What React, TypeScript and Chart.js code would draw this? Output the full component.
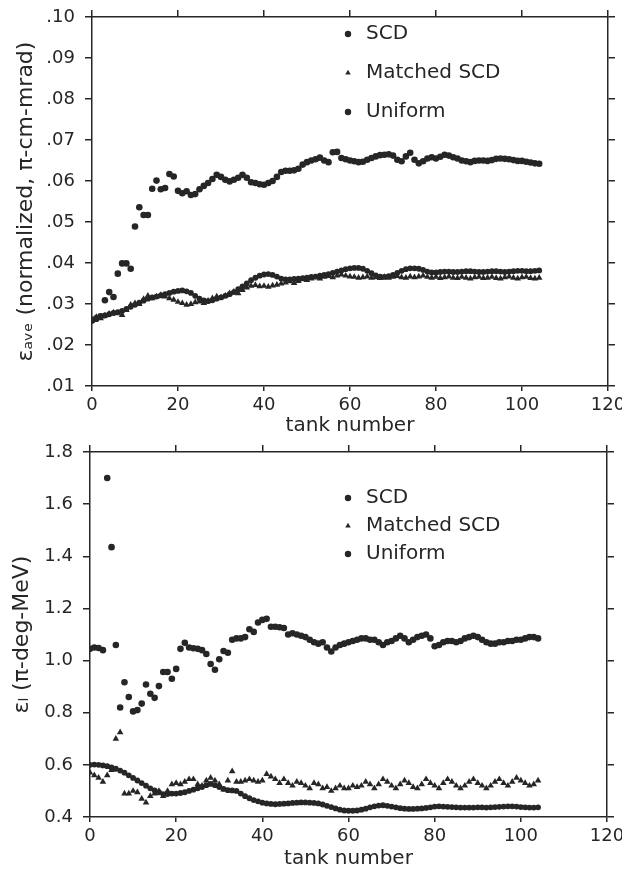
import React, { useEffect, useRef } from 'react';
import { Chart, registerables } from 'chart.js';

Chart.register(...registerables);

// ---------- data (tank number = index 0..104) ----------
const X_MIN = 0;
const X_MAX = 120;
const X_STEP = 20;

const TOP_Y_MIN = 0.01;
const TOP_Y_MAX = 0.1;
const TOP_Y_STEP = 0.01;

const BOT_Y_MIN = 0.4;
const BOT_Y_MAX = 1.8;
const BOT_Y_STEP = 0.2;

const SERIES_NAMES = ['SCD', 'Matched SCD', 'Uniform'];

// top panel: average transverse emittance
const TOP_SCD = [
  0.026, 0.0265, 0.027, 0.0309, 0.0329, 0.0317, 0.0374, 0.0399, 0.0399, 0.0386,
  0.0489, 0.0536, 0.0517, 0.0517, 0.0581, 0.0601, 0.058, 0.0583, 0.0617, 0.0611,
  0.0576, 0.057, 0.0575, 0.0566, 0.0568, 0.058, 0.0588, 0.0595, 0.0605, 0.0615,
  0.061, 0.0603, 0.0599, 0.0603, 0.0608, 0.0615, 0.0608, 0.0597, 0.0595, 0.0592,
  0.0591, 0.0595, 0.06, 0.061, 0.0622, 0.0625, 0.0625, 0.0626, 0.063, 0.064,
  0.0646, 0.065, 0.0653, 0.0657, 0.065, 0.0646, 0.067, 0.0671, 0.0656, 0.0653,
  0.065, 0.0648, 0.0646, 0.0647, 0.0652, 0.0656, 0.066, 0.0663, 0.0664, 0.0665,
  0.0662, 0.0652, 0.0648, 0.066, 0.0669, 0.0652, 0.0643, 0.0648, 0.0655, 0.0658,
  0.0655, 0.0659, 0.0664, 0.0662, 0.0658, 0.0655, 0.065, 0.0648, 0.0646, 0.0649,
  0.065, 0.065, 0.0649, 0.0651, 0.0654, 0.0655, 0.0654, 0.0653, 0.0651, 0.0649,
  0.0649, 0.0647, 0.0645, 0.0643, 0.0642,
];
const TOP_MATCHED = [
  0.0262, 0.0268, 0.0265, 0.0272, 0.0276, 0.0279, 0.0277, 0.0273, 0.0285, 0.0298,
  0.0302, 0.03, 0.0312, 0.032, 0.0314, 0.0318, 0.0322, 0.0318, 0.0314, 0.031,
  0.0305, 0.0302, 0.0298, 0.03, 0.0304, 0.0306, 0.0302, 0.0308, 0.0314, 0.0318,
  0.0316, 0.032, 0.0326, 0.033, 0.0326, 0.0334, 0.034, 0.0344, 0.0346, 0.0343,
  0.0344, 0.0342, 0.0345, 0.0347, 0.035, 0.0352, 0.0355, 0.0351, 0.0356, 0.036,
  0.0358, 0.0362, 0.0365, 0.0362, 0.0366, 0.0368, 0.0365, 0.0369, 0.0372, 0.0369,
  0.0367, 0.0366, 0.0364, 0.0365, 0.0367, 0.0364, 0.0365, 0.0363, 0.0366, 0.0364,
  0.0366, 0.0368, 0.0365, 0.0364, 0.0367, 0.0365, 0.0367, 0.0369, 0.0366, 0.0364,
  0.0366, 0.0363, 0.0365, 0.0367, 0.0364, 0.0363, 0.0366, 0.0364, 0.0362, 0.0365,
  0.0366, 0.0363, 0.0364, 0.0366, 0.0363, 0.0362, 0.0365, 0.0367, 0.0364, 0.0362,
  0.0365, 0.0366, 0.0363, 0.0362, 0.0364,
];
const TOP_UNIFORM = [
  0.026, 0.0263, 0.0268, 0.0272, 0.0275, 0.0278, 0.028, 0.0283, 0.0288, 0.0293,
  0.0298, 0.0303, 0.0308, 0.0313, 0.0316, 0.0318, 0.0321, 0.0324, 0.0327, 0.033,
  0.0332, 0.0333, 0.0331, 0.0327, 0.032, 0.0313, 0.0309, 0.0307, 0.0309, 0.0313,
  0.0316, 0.032, 0.0324, 0.0329, 0.0336, 0.0343, 0.035, 0.0358, 0.0364, 0.0369,
  0.0372, 0.0373, 0.0371, 0.0367, 0.0362, 0.036, 0.036, 0.0361, 0.0362, 0.0363,
  0.0364, 0.0366, 0.0367, 0.0369, 0.0371, 0.0373, 0.0376, 0.0379, 0.0382, 0.0385,
  0.0387, 0.0388, 0.0388, 0.0386, 0.0381, 0.0375, 0.037, 0.0367, 0.0366, 0.0368,
  0.0371, 0.0376, 0.0381, 0.0385, 0.0387, 0.0387, 0.0386, 0.0383, 0.0379, 0.0377,
  0.0377, 0.0378, 0.0379, 0.0379, 0.0378, 0.0378, 0.0379, 0.038, 0.038, 0.0379,
  0.0378, 0.0378, 0.0379, 0.038, 0.038, 0.0379, 0.0378, 0.0379, 0.038, 0.0381,
  0.0381, 0.038, 0.038, 0.0381, 0.0382,
];

// bottom panel: longitudinal emittance
const BOT_SCD = [
  1.045, 1.05, 1.048, 1.04, 1.7, 1.435, 1.06, 0.82, 0.917, 0.86,
  0.805, 0.81, 0.835, 0.908, 0.873, 0.857, 0.902, 0.956, 0.956, 0.93,
  0.968, 1.045, 1.068, 1.05, 1.047, 1.045, 1.04, 1.025, 0.987, 0.965,
  1.005, 1.037, 1.03, 1.08, 1.085, 1.085, 1.09, 1.12, 1.11, 1.146,
  1.156, 1.16, 1.13, 1.13, 1.128, 1.125, 1.1, 1.105, 1.1, 1.095,
  1.09, 1.08, 1.07, 1.065, 1.07, 1.05, 1.035, 1.05, 1.06, 1.065,
  1.07, 1.075, 1.08, 1.085, 1.085, 1.08, 1.08, 1.07, 1.06, 1.07,
  1.075, 1.085, 1.095, 1.085, 1.07, 1.08, 1.09, 1.095, 1.1, 1.085,
  1.055, 1.06, 1.07, 1.075, 1.075, 1.07, 1.075, 1.085, 1.09, 1.095,
  1.09, 1.08, 1.07, 1.065, 1.065, 1.07, 1.07, 1.075, 1.075, 1.08,
  1.08, 1.085, 1.09, 1.09, 1.085,
];
const BOT_MATCHED = [
  0.57, 0.56, 0.55, 0.535, 0.56, 0.58, 0.7, 0.725, 0.49, 0.49,
  0.5, 0.495, 0.47, 0.455, 0.48, 0.49, 0.5, 0.48, 0.5, 0.525,
  0.53, 0.525, 0.535, 0.545, 0.545, 0.525, 0.52, 0.54, 0.55, 0.54,
  0.525, 0.505, 0.54, 0.575, 0.535, 0.535, 0.54, 0.545, 0.54, 0.535,
  0.54, 0.565, 0.555, 0.545, 0.53, 0.545, 0.53, 0.52, 0.535, 0.53,
  0.52, 0.51, 0.53, 0.525, 0.51, 0.515, 0.5, 0.51, 0.52, 0.51,
  0.51, 0.52, 0.515, 0.52, 0.535, 0.525, 0.51, 0.525, 0.545, 0.535,
  0.52, 0.51, 0.525, 0.54, 0.53, 0.515, 0.51, 0.525, 0.545, 0.53,
  0.52, 0.51, 0.53, 0.545, 0.535, 0.52, 0.51, 0.52, 0.535, 0.545,
  0.53, 0.52, 0.51, 0.52, 0.535, 0.545, 0.53, 0.52, 0.535, 0.55,
  0.54, 0.53, 0.52, 0.525, 0.54,
];
const BOT_UNIFORM = [
  0.6, 0.601, 0.6, 0.598, 0.595, 0.59, 0.585, 0.578, 0.57, 0.56,
  0.55, 0.54, 0.53, 0.52, 0.51, 0.502, 0.495, 0.488, 0.488, 0.49,
  0.49, 0.492, 0.495, 0.5, 0.505, 0.51, 0.515, 0.522, 0.527, 0.522,
  0.515, 0.508, 0.503, 0.502, 0.5, 0.49, 0.48, 0.472, 0.465, 0.46,
  0.455, 0.452, 0.45, 0.449, 0.45, 0.451, 0.452, 0.454, 0.455, 0.456,
  0.456, 0.455, 0.454, 0.452, 0.448, 0.443, 0.438, 0.433, 0.428, 0.425,
  0.424, 0.424, 0.425, 0.428, 0.432, 0.437, 0.441, 0.444, 0.445, 0.443,
  0.44, 0.437, 0.434, 0.432, 0.431, 0.431, 0.432, 0.433, 0.435, 0.437,
  0.44, 0.441, 0.44, 0.439, 0.438, 0.437, 0.436, 0.436, 0.436, 0.436,
  0.437, 0.437, 0.436, 0.437, 0.438, 0.439, 0.44, 0.441, 0.441, 0.44,
  0.438, 0.437, 0.436, 0.436, 0.437,
];

// ---------- styling ----------
const INK = '#262626';
const FONT = '"DejaVu Sans", sans-serif';

function toPoints(values: number[]) {
  return values.map((v, i) => ({ x: i, y: v }));
}

type PanelSpec = {
  series: number[][];
  yMin: number;
  yMax: number;
  yStep: number;
  yLabel: (v: number) => string;
  yTitle: string;
  yTitlePad: number;
  leftW: number;
  rightW: number;
  topH: number;
  bottomH: number;
  xTitlePad: number;
  xTitleLineHeight: number;
  legendLeft: number;
  legendTop: number;
  legendPad: number;
  rightDash: number[];
};

function buildConfig(p: PanelSpec): any {
  const styles = [
    { pointStyle: 'circle', radius: 3.3 },
    { pointStyle: 'triangle', radius: 3.8 },
    { pointStyle: 'circle', radius: 2.9 },
  ];
  const datasets = p.series.map((vals, i) => ({
    label: SERIES_NAMES[i],
    data: toPoints(vals),
    showLine: false,
    pointStyle: styles[i].pointStyle,
    pointRadius: styles[i].radius,
    pointHoverRadius: styles[i].radius,
    pointBorderWidth: 0,
    borderWidth: 0,
    backgroundColor: INK,
    borderColor: INK,
    xAxisID: 'x',
    yAxisID: 'y',
  }));

  const grid = (len: number) => ({
    drawOnChartArea: false,
    drawTicks: true,
    tickLength: len,
    color: INK,
    lineWidth: 1.5,
  });
  const border = { display: true, color: INK, width: 1.5 };

  return {
    type: 'scatter',
    data: { datasets },
    options: {
      responsive: false,
      animation: false,
      events: [],
      layout: { padding: 0 },
      scales: {
        x: {
          type: 'linear',
          axis: 'x',
          position: 'bottom',
          min: X_MIN,
          max: X_MAX,
          ticks: {
            stepSize: X_STEP,
            autoSkip: false,
            maxRotation: 0,
            padding: 4,
            color: INK,
            font: { size: 18, family: FONT },
            callback: (v: number) => String(v),
          },
          grid: grid(5),
          border,
          title: {
            display: true,
            text: 'tank number',
            color: INK,
            font: { size: 20, family: FONT, lineHeight: p.xTitleLineHeight },
            padding: { top: 0, bottom: p.xTitlePad },
          },
          afterFit: (s: any) => {
            s.height = p.bottomH;
            s.paddingLeft = 0;
            s.paddingRight = 0;
          },
        },
        xTop: {
          type: 'linear',
          axis: 'x',
          position: 'top',
          min: X_MIN,
          max: X_MAX,
          ticks: { stepSize: X_STEP, display: false },
          grid: grid(7),
          border,
          afterFit: (s: any) => {
            s.height = p.topH;
            s.paddingLeft = 0;
            s.paddingRight = 0;
          },
        },
        y: {
          type: 'linear',
          axis: 'y',
          position: 'left',
          min: p.yMin,
          max: p.yMax,
          ticks: {
            stepSize: p.yStep,
            autoSkip: false,
            padding: 10,
            color: INK,
            font: { size: 18, family: FONT },
            callback: (v: number) => p.yLabel(v),
          },
          grid: grid(7),
          border,
          title: {
            display: true,
            text: p.yTitle,
            color: INK,
            font: { size: 22, family: FONT, lineHeight: 1.2 },
            padding: { top: p.yTitlePad, bottom: 0 },
          },
          afterFit: (s: any) => {
            s.width = p.leftW;
            s.paddingTop = 0;
            s.paddingBottom = 0;
          },
        },
        yRight: {
          type: 'linear',
          axis: 'y',
          position: 'right',
          min: p.yMin,
          max: p.yMax,
          ticks: { stepSize: p.yStep, display: false },
          grid: grid(7),
          border: { ...border, dash: p.rightDash },
          afterFit: (s: any) => {
            s.width = p.rightW;
            s.paddingTop = 0;
            s.paddingBottom = 0;
          },
        },
      },
      plugins: {
        tooltip: { enabled: false },
        title: { display: false },
        legend: {
          display: true,
          position: 'chartArea',
          align: 'start',
          labels: {
            usePointStyle: true,
            boxWidth: 16,
            boxHeight: 4.5,
            padding: p.legendPad,
            color: INK,
            font: { size: 20, family: FONT },
          },
        },
      },
    },
    plugins: [
      {
        id: 'placeLegend',
        afterLayout(chart: any) {
          const lg = chart.legend;
          if (!lg) return;
          lg.left = p.legendLeft;
          lg.top = p.legendTop;
          lg.width = 280;
          lg.height = 200;
          lg.right = p.legendLeft + 280;
          lg.bottom = p.legendTop + 200;
        },
      },
    ],
  };
}

const TOP_SPEC: PanelSpec = {
  series: [TOP_SCD, TOP_MATCHED, TOP_UNIFORM],
  yMin: TOP_Y_MIN,
  yMax: TOP_Y_MAX,
  yStep: TOP_Y_STEP,
  yLabel: (v) => v.toFixed(2).replace(/^0/, ''),
  yTitle: 'εₐᵥₑ (normalized, π-cm-mrad)',
  yTitlePad: 13,
  leftW: 92,
  rightW: 14,
  topH: 17,
  bottomH: 54,
  xTitlePad: 2,
  xTitleLineHeight: 1.2,
  legendLeft: 321,
  legendTop: 5,
  legendPad: 19,
  rightDash: [40, 6],
};

const BOT_SPEC: PanelSpec = {
  series: [BOT_SCD, BOT_MATCHED, BOT_UNIFORM],
  yMin: BOT_Y_MIN,
  yMax: BOT_Y_MAX,
  yStep: BOT_Y_STEP,
  yLabel: (v) => v.toFixed(1),
  yTitle: 'εₗ (π-deg-MeV)',
  yTitlePad: 9,
  leftW: 90,
  rightW: 15,
  topH: 12,
  bottomH: 52,
  xTitlePad: 0,
  xTitleLineHeight: 1,
  legendLeft: 332,
  legendTop: 40,
  legendPad: 8,
  rightDash: [],
};

function Panel({ spec, width, height, top }: { spec: PanelSpec; width: number; height: number; top: number }) {
  const ref = useRef<HTMLCanvasElement | null>(null);
  useEffect(() => {
    if (!ref.current) return;
    const chart = new Chart(ref.current, buildConfig(spec));
    return () => chart.destroy();
  }, [spec]);
  return (
    <canvas
      ref={ref}
      width={width}
      height={height}
      style={{ position: 'absolute', left: 0, top, width, height, display: 'block' }}
    />
  );
}

export default function App() {
  Chart.defaults.font.family = FONT;
  Chart.defaults.color = INK;
  return (
    <div
      style={{
        position: 'absolute',
        left: 0,
        top: 0,
        width: 622,
        height: 869,
        background: '#ffffff',
        overflow: 'hidden',
      }}
    >
      <Panel spec={TOP_SPEC} width={622} height={440} top={0} />
      <Panel spec={BOT_SPEC} width={622} height={429} top={440} />
    </div>
  );
}
